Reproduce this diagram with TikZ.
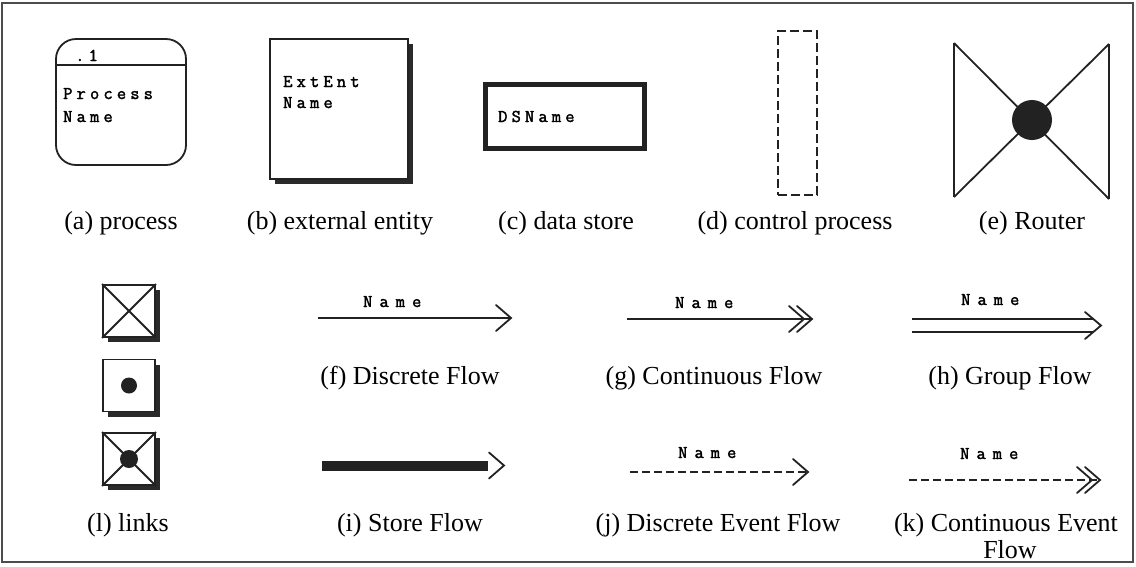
\documentclass[tikz,border=0pt]{standalone}
\usepackage{fontspec}
\setmainfont{Liberation Serif}
\usetikzlibrary{shadows}
\definecolor{ink}{HTML}{222222}
\definecolor{shade}{HTML}{2A2A2A}
\newfontfamily\pixfont[LetterSpace=23,FakeBold=2]{Latin Modern Mono}
\newfontfamily\pixwide[LetterSpace=39,FakeBold=2]{Latin Modern Mono}
\begin{document}
\begin{tikzpicture}[x=1pt,y=-1pt,
  lbl/.style={font=\fontsize{26}{29}\selectfont, inner sep=0pt, anchor=base},
  mono/.style={font=\pixfont\fontsize{18}{20}\selectfont, inner sep=0pt, anchor=base west},
  monow/.style={font=\pixwide\fontsize{18}{20}\selectfont, inner sep=0pt, anchor=base west},
  ln/.style={line width=1.8pt, draw=ink},
  linkbox/.style={draw=ink, line width=1.8pt, fill=white, minimum width=52pt, minimum height=52pt, inner sep=0pt,
     drop shadow={shadow xshift=5pt, shadow yshift=-5pt, fill=shade, opacity=1}},
  chev/.pic={\draw[ln, line cap=round, line join=miter] (-15,-13) -- (0,0) -- (-15,13);},
  flowline/.style={ln},
  evline/.style={ln, dash pattern=on 8pt off 4pt}
]
\useasboundingbox (0,0) rectangle (1136,566);
\draw[line width=1.2pt, draw=black!70] (2,3) rectangle (1133,562);

% (a) process
\node[draw=ink, line width=1.8pt, rounded corners=20pt, minimum width=130pt, minimum height=126pt, inner sep=0pt] (proc) at (121,102) {};
\coordinate (dl) at (56,65); \coordinate (dr) at (186,65);
\draw[ln] (dl) -- (dr);
\node[mono] (pnum) at (75,61) {.1};
\node[mono] (pname1) at (63,99) {Process};
\node[mono] (pname2) at (63,122) {Name};
\node[lbl] (la) at (121,229) {(a) process};

% (b) external entity
\node[draw=ink, line width=1.8pt, fill=white, minimum width=138pt, minimum height=140pt, inner sep=0pt,
  drop shadow={shadow xshift=5pt, shadow yshift=-5pt, fill=shade, opacity=1}] (ext) at (339,109) {};
\node[mono] (ext1) at (283,87) {ExtEnt};
\node[mono] (ext2) at (283,108) {Name};
\node[lbl] (lb) at (340,229) {(b) external entity};

% (c) data store
\node[draw=ink, line width=5pt, minimum width=159pt, minimum height=64pt, inner sep=0pt] (ds) at (565,116.5) {};
\node[mono] (dsn) at (498,122) {DSName};
\node[lbl] (lc) at (566,229) {(c) data store};

% (d) control process
\node[draw=ink, line width=1.8pt, dash pattern=on 9pt off 4pt, minimum width=39pt, minimum height=164pt, inner sep=0pt] (cp) at (797.5,113) {};
\node[lbl] (ld) at (795,229) {(d) control process};

% (e) router
\coordinate (rtl) at (954,43); \coordinate (rbl) at (954,197);
\coordinate (rtr) at (1109,44); \coordinate (rbr) at (1109,199);
\draw[ln] (rtl) -- (rbl);
\draw[ln] (rtr) -- (rbr);
\draw[ln] (rtl) -- (rbr);
\draw[ln] (rbl) -- (rtr);
\node[circle, fill=ink, minimum size=40pt, inner sep=0pt] (rdot) at (1032,120) {};
\node[lbl] (le) at (1032,229) {(e) Router};

% (l) links
\node[linkbox] (l1) at (129,311) {};
\draw[ln] (l1.north west) -- (l1.south east);
\draw[ln] (l1.south west) -- (l1.north east);
\node[linkbox] (l2) at (129,385.5) {};
\node[circle, fill=ink, minimum size=16pt, inner sep=0pt] (l2dot) at (l2.center) {};
\node[linkbox] (l3) at (129,459) {};
\draw[ln] (l3.north west) -- (l3.south east);
\draw[ln] (l3.south west) -- (l3.north east);
\node[circle, fill=ink, minimum size=18pt, inner sep=0pt] (l3dot) at (l3.center) {};
\node[lbl] (ll) at (128,531) {(l) links};

% (f) discrete flow
\coordinate (f1) at (318,318); \coordinate (f2) at (511,318);
\draw[flowline] (f1) -- (f2);
\pic at (f2) {chev};
\node[monow] (fn) at (363,307) {Name};
\node[lbl] (lf) at (410,384) {(f) Discrete Flow};

% (g) continuous flow
\coordinate (g1) at (627,319); \coordinate (g2) at (812,319); \coordinate (g3) at (804,319);
\draw[flowline] (g1) -- (g2);
\pic at (g2) {chev};
\pic at (g3) {chev};
\node[monow] (gn) at (675,308) {Name};
\node[lbl] (lg) at (714,384) {(g) Continuous Flow};

% (h) group flow
\coordinate (h1a) at (912,319); \coordinate (h2a) at (1093,319);
\coordinate (h1b) at (912,332); \coordinate (h2b) at (1093,332);
\coordinate (htip) at (1101,325.5);
\coordinate (hw1) at (1085,312); \coordinate (hw2) at (1085,339);
\draw[flowline] (h1a) -- (h2a);
\draw[flowline] (h1b) -- (h2b);
\draw[ln, line cap=round] (hw1) -- (htip) -- (hw2);
\node[monow] (hn) at (961,305) {Name};
\node[lbl] (lh) at (1010,384) {(h) Group Flow};

% (i) store flow
\coordinate (s1) at (322,465.5); \coordinate (s2) at (488,465.5); \coordinate (s3) at (504,465.5);
\draw[draw=ink, line width=10pt] (s1) -- (s2);
\pic at (s3) {chev};
\node[lbl] (li) at (410,531) {(i) Store Flow};

% (j) discrete event flow
\coordinate (j1) at (630,472); \coordinate (j2) at (808,472);
\draw[evline] (j1) -- (j2);
\pic at (j2) {chev};
\node[monow] (jn) at (678,458) {Name};
\node[lbl] (lj) at (718,531) {(j) Discrete Event Flow};

% (k) continuous event flow
\coordinate (k1) at (909,480); \coordinate (k2) at (1100,480); \coordinate (k3) at (1092,480);
\draw[evline] (k1) -- (k2);
\pic at (k2) {chev};
\pic at (k3) {chev};
\node[monow] (kn) at (960,459) {Name};
\node[lbl] (lk) at (1006,531) {(k) Continuous Event};
\node[lbl] (lk2) at (1010,558) {Flow};
\end{tikzpicture}
\end{document}
